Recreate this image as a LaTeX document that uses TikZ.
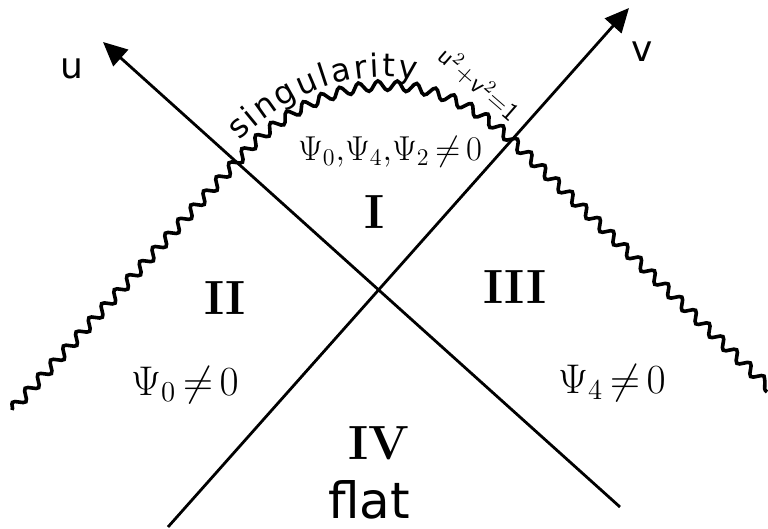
\documentclass[tikz,border=0pt]{standalone}
\usepackage{fontspec}
\newfontfamily\hand{DejaVu Sans}
\usepackage{tikz}
\usetikzlibrary{arrows.meta, decorations.pathmorphing, decorations.text}

\begin{document}
\begin{tikzpicture}[x=0.5pt, y=-0.5pt,
    axis/.style={line width=1.4pt, -{Triangle[length=12pt, width=11pt]}},
    sing/.style={line width=1.8pt, decorate, decoration={snake, segment length=9.5pt, amplitude=2.4pt}},
    roman/.style={font=\fontsize{24}{24}\selectfont\bfseries},
    weyl/.style={font=\fontsize{21}{21}\selectfont},
    coord/.style={font=\hand\fontsize{18}{18}\selectfont}]
    \useasboundingbox (0,0) rectangle (768,529);
    % axes u and v
    \coordinate (u0) at (620,507);
    \coordinate (u1) at (103,42);
    \coordinate (v0) at (168,527);
    \coordinate (v1) at (629,8);
    \draw[axis] (u0) -- (u1);
    \draw[axis] (v0) -- (v1);
    \node[coord] (ulab) at (72,69) {u};
    \node[coord] (vlab) at (642,52) {v};
    % singularity
    \coordinate (wl) at (12,410);
    \coordinate (wa) at (238,160);
    \coordinate (wb) at (508,143);
    \coordinate (wr) at (767,392);
    \draw[sing] (wl) -- (wa) .. controls (313,77) and (423,61) .. (wb) -- (wr);
    \path[decorate, decoration={text along path, raise=6pt,
        text align={left indent=7pt, right indent=54pt, fit to path},
        text={|\hand\fontsize{16}{16}\selectfont|singularity}}]
        (wa) .. controls (313,77) and (423,61) .. (wb);
    \node[font=\sffamily\fontsize{13}{13}\selectfont, rotate=-41] (eq) at (479,84) {u$^2$+v$^2$=1};
    % regions
    \node[weyl, font=\fontsize{18}{18}\selectfont] (w1) at (390,152) {$\Psi_0{,}\Psi_4{,}\Psi_2\,{\neq}\,0$};
    \node[roman] (r1) at (375,212) {I};
    \node[roman] (r2) at (225,298) {II};
    \node[roman] (r3) at (515,287) {III};
    \node[weyl] (w2) at (185,385) {$\Psi_0\,{\neq}\,0$};
    \node[weyl] (w3) at (612,383) {$\Psi_4\,{\neq}\,0$};
    \node[roman] (r4) at (379,443) {IV};
    \node[coord, font=\hand\fontsize{25}{25}\selectfont] (flat) at (369,500) {flat};
\end{tikzpicture}
\end{document}
